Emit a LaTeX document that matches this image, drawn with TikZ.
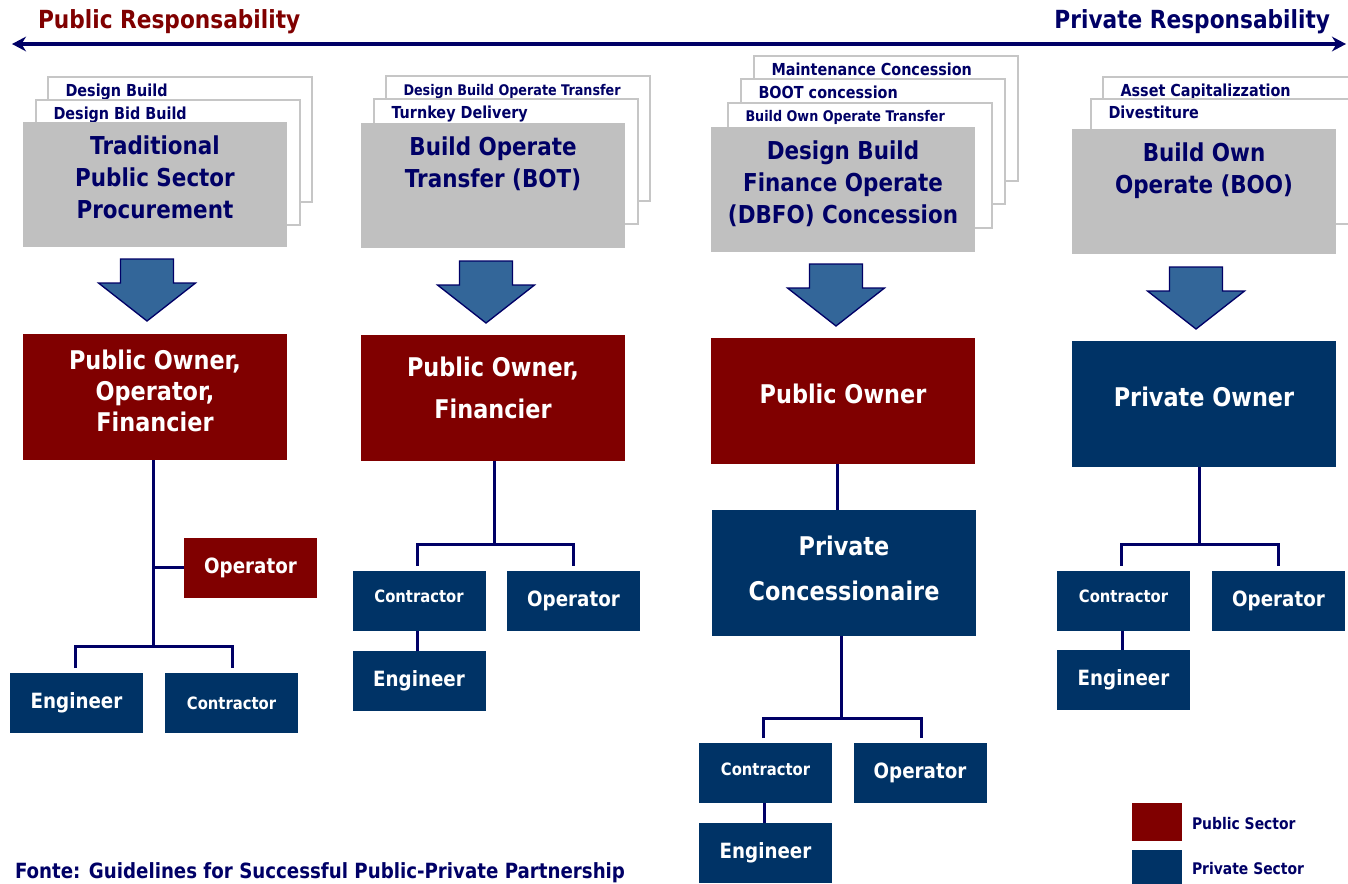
\documentclass[tikz,border=0pt]{standalone}
\usepackage{fontspec}
\setmainfont{DejaVu Sans}[FakeStretch=0.87]
\usetikzlibrary{arrows.meta,calc}
\definecolor{navy}{RGB}{0,0,102}
\definecolor{pubred}{RGB}{128,0,0}
\definecolor{privblue}{RGB}{0,51,102}
\definecolor{boxgray}{RGB}{192,192,192}
\definecolor{linegray}{RGB}{198,198,198}
\definecolor{arrowblue}{RGB}{51,102,153}
\newcommand{\upa}[1]{\raisebox{3pt}[\height][\depth]{#1}}
\begin{document}
\begin{tikzpicture}[x=0.75pt,y=-0.75pt,
  every node/.style={inner sep=0pt,outer sep=0pt},
  titlefont/.style={font=\fontsize{18.7}{22}\selectfont\bfseries},
  backbox/.style={fill=white,draw=linegray,line width=1.5pt,minimum width=198pt,minimum height=93.75pt},
  backlabel/.style={anchor=base west,text=navy,font=\fontsize{12.4}{15}\selectfont\bfseries},
  backlabelsmall/.style={backlabel,font=\fontsize{11}{13}\selectfont\bfseries},
  graybox/.style={fill=boxgray,minimum width=198pt,minimum height=93.75pt},
  graytext/.style={anchor=north,align=center,text=navy,font=\fontsize{18.5}{24}\selectfont\bfseries},
  bigbox/.style={minimum width=198pt,minimum height=94.5pt},
  pubbig/.style={bigbox,fill=pubred},
  privbig/.style={bigbox,fill=privblue},
  boxtext/.style={align=center,text=white},
  smallbox/.style={minimum width=99.75pt,minimum height=45pt,text=white},
  pubsmall/.style={smallbox,fill=pubred},
  privsmall/.style={smallbox,fill=privblue},
  bigword/.style={font=\fontsize{15.75}{19}\selectfont\bfseries},
  smallword/.style={font=\fontsize{12.75}{15}\selectfont\bfseries},
  conn/.style={draw=navy,line width=2.25pt},
  bigdown/.pic={\draw[fill=arrowblue,draw=navy,line width=1pt,line join=miter]
     (-26.5,0) -- (26.5,0) -- (26.5,24) -- (48.5,24) -- (0,62) -- (-48.5,24) -- (-26.5,24) -- cycle;},
  legendtext/.style={anchor=base west,text=navy,font=\fontsize{12}{14}\selectfont\bfseries}
]
\useasboundingbox (0,0) rectangle (1348,883);
\clip (0,0) rectangle (1348,883);

% top titles and double arrow
\node[titlefont,text=pubred,anchor=base west] (tpub) at (38,28) {Public Responsability};
\node[titlefont,text=navy,anchor=base east] (tpriv) at (1330,28) {Private Responsability};
\coordinate (la) at (12,44);
\coordinate (ra) at (1346,44);
\draw[navy,line width=3pt,{Stealth[length=10.5pt,width=11pt]}-{Stealth[length=10.5pt,width=11pt]}] (la) -- (ra);

% ---------- column 1 ----------
\node[backbox] (b1a) at (180,139.5) {};
\node[backlabel] (l1a) at ($(b1a.north west)+(17.5,19)$) {Design Build};
\node[backbox] (b1b) at (168,162.5) {};
\node[backlabel] (l1b) at ($(b1b.north west)+(17.5,19)$) {Design Bid Build};
\node[graybox] (g1) at (155,184) {};
\node[graytext] (t1) at ($(g1.north)+(0,14)$) {Traditional\\Public Sector\\Procurement};
\pic at (147,259) {bigdown};
\node[pubbig] (po1) at (155,397) {};
\node[boxtext,font=\fontsize{19.3}{23.25}\selectfont\bfseries] (po1t) at ($(po1.center)+(0,-6)$) {Public Owner,\\Operator,\\Financier};
\node[pubsmall,bigword] (op1) at (250.5,567.5) {Operator};
\node[privsmall,bigword] (eng1) at (76.5,703) {Engineer};
\node[privsmall,smallword] (con1) at (231.5,703) {Contractor};
\coordinate (j1) at (153,646);
\draw[conn] (po1.south -| j1) -- (j1);
\draw[conn] (op1.west) -- (op1.west -| j1);
\draw[conn] ($(eng1.north)+(-1.5,-5)$) |- (j1) -| ($(con1.north)+(0.5,-5)$);

% ---------- column 2 ----------
\node[backbox] (b2a) at (518,138.5) {};
\node[backlabelsmall] (l2a) at ($(b2a.north west)+(17.5,19)$) {Design Build Operate Transfer};
\node[backbox] (b2b) at (506,161.5) {};
\node[backlabel] (l2b) at ($(b2b.north west)+(17.5,19)$) {Turnkey Delivery};
\node[graybox] (g2) at (493,185) {};
\node[graytext] (t2) at ($(g2.north)+(0,14)$) {Build Operate\\Transfer (BOT)};
\pic at (486,261) {bigdown};
\node[pubbig] (po2) at (493,397.5) {};
\node[boxtext,font=\fontsize{19.3}{31.5}\selectfont\bfseries] (po2t) at ($(po2.center)+(0,-9.5)$) {Public Owner,\\Financier};
\node[privsmall,smallword] (con2) at (419,600.5) {\upa{Contractor}};
\node[privsmall,bigword] (op2) at (573.5,600.5) {Operator};
\node[privsmall,bigword] (eng2) at (419,680.5) {Engineer};
\coordinate (j2) at (494,544);
\draw[conn] (po2.south -| j2) -- (j2);
\draw[conn] ($(con2.north)+(-2,-5)$) |- (j2) -| ($(op2.north)+(-0.5,-5)$);
\draw[conn] ($(con2.south)+(-2,0)$) -- ($(eng2.north)+(-2,0)$);

% ---------- column 3 ----------
\node[backbox] (b3a) at (886,118.5) {};
\node[backlabel] (l3a) at ($(b3a.north west)+(17.5,19)$) {Maintenance Concession};
\node[backbox] (b3b) at (873,141.5) {};
\node[backlabel] (l3b) at ($(b3b.north west)+(17.5,19)$) {BOOT concession};
\node[backbox] (b3c) at (860,165.5) {};
\node[backlabelsmall] (l3c) at ($(b3c.north west)+(17.5,18)$) {Build Own Operate Transfer};
\node[graybox] (g3) at (843,189) {};
\node[graytext] (t3) at ($(g3.north)+(0,14)$) {Design Build\\Finance Operate\\(DBFO) Concession};
\pic at (836,264) {bigdown};
\node[pubbig] (po3) at (843,400.5) {};
\node[boxtext,font=\fontsize{19.3}{23}\selectfont\bfseries] (po3t) at ($(po3.center)+(0,-7)$) {Public Owner};
\node[privbig] (pc) at (844,573) {};
\node[boxtext,font=\fontsize{19.3}{33.75}\selectfont\bfseries] (pct) at ($(pc.center)+(0,-5)$) {Private\\Concessionaire};
\node[privsmall,smallword] (con3) at (765.5,773) {\upa{Contractor}};
\node[privsmall,bigword] (op3) at (920,773) {Operator};
\node[privsmall,bigword] (eng3) at (765.5,853) {Engineer};
\coordinate (x3) at (837,0);
\draw[conn] (po3.south -| x3) -- (pc.north -| x3);
\coordinate (j3) at (841,718);
\draw[conn] (pc.south -| j3) -- (j3);
\draw[conn] ($(con3.north)+(-2,-5)$) |- (j3) -| ($(op3.north)+(1,-5)$);
\draw[conn] ($(con3.south)+(-1.5,0)$) -- ($(eng3.north)+(-1.5,0)$);

% ---------- column 4 ----------
\node[backbox] (b4a) at (1235,139.5) {};
\node[backlabel] (l4a) at ($(b4a.north west)+(17.5,19)$) {Asset Capitalizzation};
\node[backbox] (b4b) at (1223,161.5) {};
\node[backlabel] (l4b) at ($(b4b.north west)+(17.5,19)$) {Divestiture};
\node[graybox] (g4) at (1204,191.5) {};
\node[graytext] (t4) at ($(g4.north)+(0,14)$) {Build Own\\Operate (BOO)};
\pic at (1196,267) {bigdown};
\node[privbig] (pvo) at (1204,403.5) {};
\node[boxtext,font=\fontsize{19.3}{23}\selectfont\bfseries] (pvot) at ($(pvo.center)+(0,-7)$) {Private Owner};
\node[privsmall,smallword] (con4) at (1123.5,600.5) {\upa{Contractor}};
\node[privsmall,bigword] (op4) at (1278.5,600.5) {Operator};
\node[privsmall,bigword] (eng4) at (1123.5,680) {Engineer};
\coordinate (j4) at (1199,544);
\draw[conn] (pvo.south -| j4) -- (j4);
\draw[conn] ($(con4.north)+(-2,-5)$) |- (j4) -| ($(op4.north)+(-0.5,-5)$);
\draw[conn] ($(con4.south)+(-1.5,0)$) -- ($(eng4.north)+(-1.5,0)$);

% ---------- legend and source ----------
\node[fill=pubred,minimum width=37.5pt,minimum height=28.5pt] (lr) at (1157,822) {};
\node[fill=privblue,minimum width=37.5pt,minimum height=28.5pt] (lb) at (1157,869) {};
\node[legendtext] (ltr) at (1192,829) {Public Sector};
\node[legendtext] (ltb) at (1192,874) {Private Sector};
\node[anchor=base west,text=navy,font=\fontsize{15.7}{18}\selectfont\bfseries] (src) at (15,878) {Fonte: Guidelines for Successful Public-Private Partnership};
\end{tikzpicture}
\end{document}
